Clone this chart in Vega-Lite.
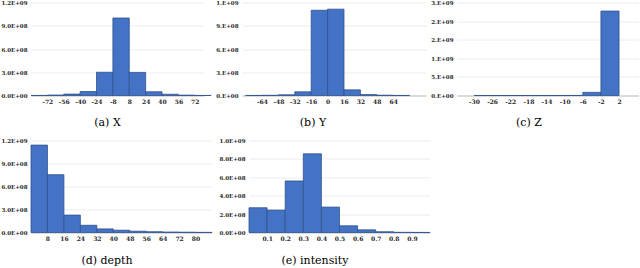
{
  "$schema": "https://vega.github.io/schema/vega-lite/v6.json",
  "background": "white",
  "padding": {"left": 0, "top": 0.5, "right": 0, "bottom": 0},
  "datasets": {
    "h": [
      {"panel": "X", "x0": -88, "x1": -72, "count": 1000000},
      {"panel": "X", "x0": -72, "x1": -56, "count": 6000000},
      {"panel": "X", "x0": -56, "x1": -40, "count": 18000000},
      {"panel": "X", "x0": -40, "x1": -24, "count": 51000000},
      {"panel": "X", "x0": -24, "x1": -8, "count": 300000000},
      {"panel": "X", "x0": -8, "x1": 8, "count": 1000000000},
      {"panel": "X", "x0": 8, "x1": 24, "count": 298000000},
      {"panel": "X", "x0": 24, "x1": 40, "count": 48000000},
      {"panel": "X", "x0": 40, "x1": 56, "count": 16000000},
      {"panel": "X", "x0": 56, "x1": 72, "count": 5000000},
      {"panel": "X", "x0": 72, "x1": 88, "count": 1000000},
      {"panel": "Y", "x0": -80, "x1": -64, "count": 1000000},
      {"panel": "Y", "x0": -64, "x1": -48, "count": 3000000},
      {"panel": "Y", "x0": -48, "x1": -32, "count": 9000000},
      {"panel": "Y", "x0": -32, "x1": -16, "count": 47000000},
      {"panel": "Y", "x0": -16, "x1": 0, "count": 1100000000},
      {"panel": "Y", "x0": 0, "x1": 16, "count": 1114000000},
      {"panel": "Y", "x0": 16, "x1": 32, "count": 73000000},
      {"panel": "Y", "x0": 32, "x1": 48, "count": 12000000},
      {"panel": "Y", "x0": 48, "x1": 64, "count": 4000000},
      {"panel": "Y", "x0": 64, "x1": 80, "count": 1000000},
      {"panel": "Z", "x0": -30, "x1": -26, "count": 500000},
      {"panel": "Z", "x0": -26, "x1": -22, "count": 500000},
      {"panel": "Z", "x0": -22, "x1": -18, "count": 500000},
      {"panel": "Z", "x0": -18, "x1": -14, "count": 500000},
      {"panel": "Z", "x0": -14, "x1": -10, "count": 800000},
      {"panel": "Z", "x0": -10, "x1": -6, "count": 2000000},
      {"panel": "Z", "x0": -6, "x1": -2, "count": 85000000},
      {"panel": "Z", "x0": -2, "x1": 2, "count": 2270000000},
      {"panel": "depth", "x0": 0, "x1": 8, "count": 1140000000},
      {"panel": "depth", "x0": 8, "x1": 16, "count": 754000000},
      {"panel": "depth", "x0": 16, "x1": 24, "count": 227000000},
      {"panel": "depth", "x0": 24, "x1": 32, "count": 94000000},
      {"panel": "depth", "x0": 32, "x1": 40, "count": 47000000},
      {"panel": "depth", "x0": 40, "x1": 48, "count": 30000000},
      {"panel": "depth", "x0": 48, "x1": 56, "count": 17000000},
      {"panel": "depth", "x0": 56, "x1": 64, "count": 10000000},
      {"panel": "depth", "x0": 64, "x1": 72, "count": 6000000},
      {"panel": "depth", "x0": 72, "x1": 80, "count": 4000000},
      {"panel": "depth", "x0": 80, "x1": 88, "count": 2000000},
      {"panel": "intensity", "x0": 0, "x1": 0.1, "count": 269000000},
      {"panel": "intensity", "x0": 0.1, "x1": 0.2, "count": 244000000},
      {"panel": "intensity", "x0": 0.2, "x1": 0.3, "count": 560000000},
      {"panel": "intensity", "x0": 0.3, "x1": 0.4, "count": 855000000},
      {"panel": "intensity", "x0": 0.4, "x1": 0.5, "count": 276000000},
      {"panel": "intensity", "x0": 0.5, "x1": 0.6, "count": 73000000},
      {"panel": "intensity", "x0": 0.6, "x1": 0.7, "count": 29000000},
      {"panel": "intensity", "x0": 0.7, "x1": 0.8, "count": 8000000},
      {"panel": "intensity", "x0": 0.8, "x1": 0.9, "count": 2000000},
      {"panel": "intensity", "x0": 0.9, "x1": 1.0, "count": 1000000}
    ]
  },
  "data": {"name": "h"},
  "config": {
    "font": "DejaVu Serif",
    "view": {"stroke": null},
    "concat": {"spacing": 10},
    "axisX": {"ticks": false, "grid": false, "domainColor": "#bfbfbf", "domainWidth": 1, "labelFont": "DejaVu Serif", "labelFontWeight": "bold", "labelFontSize": 6, "labelColor": "#262626", "labelPadding": 3, "labelOverlap": false, "labelFlush": false, "title": null, "labelExpr": "'' + datum.value"},
    "axisY": {"ticks": false, "domain": false, "grid": true, "gridColor": "#ececec", "gridWidth": 1, "labelFont": "DejaVu Serif", "labelFontWeight": "bold", "labelFontSize": 5.5, "labelColor": "#262626", "labelPadding": 4, "labelOverlap": false, "labelFlush": false, "title": null},
    "title": {"orient": "bottom", "font": "DejaVu Serif", "fontSize": 11, "fontWeight": "normal", "color": "#000", "offset": 12.5, "frame": "group", "anchor": "middle"},
    "rect": {"fill": "#4472c4", "stroke": "#2f528f", "strokeWidth": 0.8}
  },
  "vconcat": [
    {
      "spacing": 0,
      "hconcat": [
        {
          "width": 173, "height": 93,
          "title": {"text": "(a) X", "dx": -10},
          "transform": [{"filter": "datum.panel == 'X'"}],
          "mark": "rect",
          "encoding": {
            "x": {"field": "x0", "type": "quantitative", "scale": {"domain": [-88, 81], "nice": false, "zero": false}, "axis": {"values": [-72, -56, -40, -24, -8, 8, 24, 40, 56, 72]}},
            "x2": {"field": "x1"},
            "y": {"field": "count", "type": "quantitative", "scale": {"domain": [0, 1200000000], "nice": false}, "axis": {"values": [0, 300000000, 600000000, 900000000, 1200000000], "format": ".1e", "labelExpr": "replace(upper(datum.label), 'E+', 'E+0')", "minExtent": 29, "maxExtent": 29}},
            "y2": {"datum": 0}
          }
        },
        {
          "width": 184, "height": 93,
          "title": {"text": "(b) Y", "dx": -21},
          "transform": [{"filter": "datum.panel == 'Y'"}],
          "mark": "rect",
          "encoding": {
            "x": {"field": "x0", "type": "quantitative", "scale": {"domain": [-83.5, 96], "nice": false, "zero": false}, "axis": {"values": [-64, -48, -32, -16, 0, 16, 32, 48, 64]}},
            "x2": {"field": "x1"},
            "y": {"field": "count", "type": "quantitative", "scale": {"domain": [0, 1200000000], "nice": false}, "axis": {"values": [0, 300000000, 600000000, 900000000, 1200000000], "format": ".0e", "labelExpr": "replace(upper(datum.label), 'E+', '.E+0')", "minExtent": 30, "maxExtent": 30}},
            "y2": {"datum": 0}
          }
        },
        {
          "width": 182, "height": 93,
          "title": {"text": "(c) Z", "dx": -19},
          "transform": [{"filter": "datum.panel == 'Z'"}],
          "mark": "rect",
          "encoding": {
            "x": {"field": "x0", "type": "quantitative", "scale": {"domain": [-33.75, 6.4], "nice": false, "zero": false}, "axis": {"values": [-30, -26, -22, -18, -14, -10, -6, -2, 2]}},
            "x2": {"field": "x1"},
            "y": {"field": "count", "type": "quantitative", "scale": {"domain": [0, 2500000000], "nice": false}, "axis": {"values": [0, 500000000, 1000000000, 1500000000, 2000000000, 2500000000], "format": ".0e", "labelExpr": "replace(upper(datum.label), 'E+', '.E+0')", "minExtent": 31, "maxExtent": 31}},
            "y2": {"datum": 0}
          }
        }
      ]
    },
    {
      "spacing": 5,
      "hconcat": [
        {
          "width": 181, "height": 92,
          "title": {"text": "(d) depth", "dx": -14.5, "offset": 13.5},
          "transform": [{"filter": "datum.panel == 'depth'"}],
          "mark": "rect",
          "encoding": {
            "x": {"field": "x0", "type": "quantitative", "scale": {"domain": [0, 88], "nice": false, "zero": false}, "axis": {"values": [8, 16, 24, 32, 40, 48, 56, 64, 72, 80]}},
            "x2": {"field": "x1"},
            "y": {"field": "count", "type": "quantitative", "scale": {"domain": [0, 1200000000], "nice": false}, "axis": {"values": [0, 300000000, 600000000, 900000000, 1200000000], "format": ".1e", "labelExpr": "replace(upper(datum.label), 'E+', 'E+0')", "minExtent": 29, "maxExtent": 29}},
            "y2": {"datum": 0}
          }
        },
        {
          "width": 181, "height": 92,
          "title": {"text": "(e) intensity", "dx": -24.5, "offset": 13.5},
          "transform": [{"filter": "datum.panel == 'intensity'"}],
          "mark": "rect",
          "encoding": {
            "x": {"field": "x0", "type": "quantitative", "scale": {"domain": [0, 1], "nice": false, "zero": false}, "axis": {"values": [0.1, 0.2, 0.3, 0.4, 0.5, 0.6, 0.7, 0.8, 0.9]}},
            "x2": {"field": "x1"},
            "y": {"field": "count", "type": "quantitative", "scale": {"domain": [0, 1000000000], "nice": false}, "axis": {"values": [0, 200000000, 400000000, 600000000, 800000000, 1000000000], "format": ".1e", "labelExpr": "replace(upper(datum.label), 'E+', 'E+0')", "minExtent": 25, "maxExtent": 25}},
            "y2": {"datum": 0}
          }
        }
      ]
    }
  ]
}
